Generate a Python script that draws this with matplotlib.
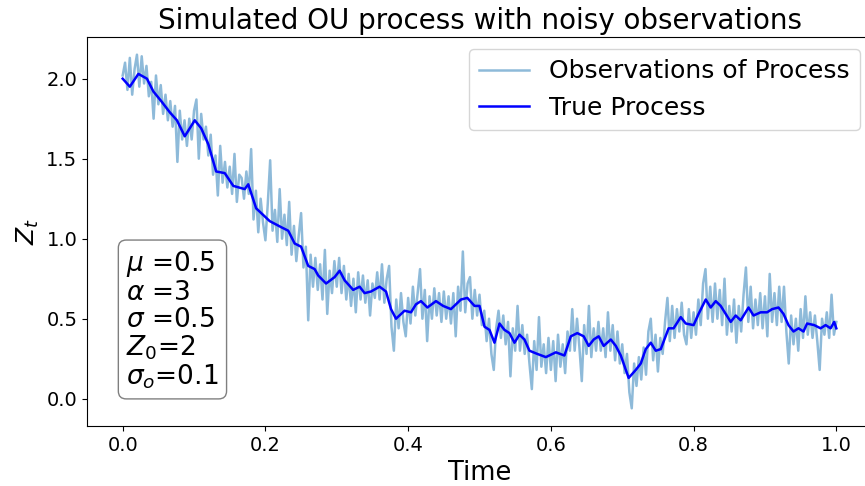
import numpy as np
import matplotlib
matplotlib.use("Agg")
import matplotlib.pyplot as plt

# True process (time, value)
t_true = [0.000, 0.010, 0.022, 0.034, 0.043, 0.054, 0.066, 0.076, 0.087, 0.101,
          0.110, 0.120, 0.131, 0.143, 0.155, 0.171, 0.176, 0.187, 0.206, 0.223,
          0.232, 0.241, 0.250, 0.260, 0.269, 0.274, 0.285, 0.297, 0.304, 0.311,
          0.323, 0.332, 0.339, 0.348, 0.360, 0.369, 0.376, 0.383, 0.395, 0.404,
          0.411, 0.418, 0.427, 0.439, 0.449, 0.460, 0.474, 0.483, 0.493, 0.500,
          0.507, 0.514, 0.521, 0.528, 0.535, 0.542, 0.549, 0.556, 0.563, 0.570,
          0.581, 0.593, 0.607, 0.619, 0.628, 0.637, 0.646, 0.653, 0.660, 0.667,
          0.674, 0.684, 0.691, 0.698, 0.709, 0.719, 0.726, 0.733, 0.740, 0.747,
          0.754, 0.765, 0.772, 0.782, 0.789, 0.800, 0.807, 0.817, 0.824, 0.831,
          0.838, 0.852, 0.859, 0.866, 0.877, 0.884, 0.894, 0.903, 0.910, 0.919,
          0.926, 0.933, 0.940, 0.947, 0.954, 0.959, 0.969, 0.978, 0.985, 0.992,
          0.997, 1.000]
z_true = [2.00, 1.95, 2.03, 2.00, 1.92, 1.86, 1.79, 1.74, 1.64, 1.74,
          1.69, 1.59, 1.42, 1.41, 1.33, 1.31, 1.34, 1.19, 1.11, 1.07,
          1.05, 0.97, 0.95, 0.83, 0.81, 0.77, 0.72, 0.76, 0.80, 0.74,
          0.68, 0.70, 0.66, 0.67, 0.70, 0.67, 0.56, 0.50, 0.55, 0.54,
          0.59, 0.61, 0.57, 0.61, 0.58, 0.56, 0.62, 0.63, 0.58, 0.58,
          0.45, 0.43, 0.35, 0.47, 0.43, 0.41, 0.35, 0.40, 0.37, 0.30,
          0.28, 0.26, 0.29, 0.27, 0.39, 0.41, 0.39, 0.33, 0.37, 0.39,
          0.33, 0.37, 0.33, 0.27, 0.13, 0.18, 0.22, 0.31, 0.35, 0.30,
          0.31, 0.44, 0.44, 0.51, 0.47, 0.46, 0.53, 0.62, 0.57, 0.61,
          0.58, 0.48, 0.52, 0.49, 0.57, 0.52, 0.54, 0.54, 0.56, 0.57,
          0.53, 0.46, 0.42, 0.44, 0.42, 0.47, 0.46, 0.44, 0.46, 0.44,
          0.48, 0.44]

# Noisy observations, 301 equally spaced times on [0, 1]
z_obs = [
    2.02, 2.10, 1.93, 2.13, 1.90, 2.06, 2.15, 1.95, 2.14, 1.97,
    2.08, 1.89, 1.98, 1.75, 2.02, 1.84, 1.96, 1.78, 1.90, 1.74,
    1.86, 1.70, 1.83, 1.48, 1.80, 1.62, 1.74, 1.58, 1.75, 1.62,
    1.80, 1.87, 1.50, 1.78, 1.62, 1.70, 1.52, 1.65, 1.40, 1.52,
    1.27, 1.58, 1.35, 1.48, 1.32, 1.45, 1.28, 1.53, 1.23, 1.40,
    1.38, 1.25, 1.42, 1.28, 1.56, 1.12, 1.30, 1.04, 1.25, 1.10,
    0.99, 1.22, 1.49, 1.05, 1.18, 0.98, 1.31, 1.00, 1.15, 0.96,
    1.23, 0.90, 1.08, 0.86, 1.02, 1.16, 0.82, 0.95, 0.49, 0.90,
    0.70, 0.88, 0.68, 0.84, 0.62, 0.93, 0.53, 0.80, 0.66, 0.86,
    0.70, 0.88, 0.66, 0.83, 0.62, 0.78, 0.58, 0.75, 0.54, 0.79,
    0.62, 0.77, 0.60, 0.74, 0.52, 0.72, 0.63, 0.79, 0.62, 0.84,
    0.60, 0.75, 0.83, 0.45, 0.30, 0.62, 0.44, 0.66, 0.48, 0.39,
    0.63, 0.47, 0.70, 0.52, 0.66, 0.81, 0.50, 0.68, 0.36, 0.64,
    0.50, 0.69, 0.52, 0.66, 0.48, 0.67, 0.50, 0.64, 0.47, 0.66,
    0.39, 0.70, 0.55, 0.92, 0.54, 0.72, 0.76, 0.50, 0.68, 0.52,
    0.65, 0.46, 0.55, 0.36, 0.50, 0.28, 0.18, 0.44, 0.55, 0.38,
    0.52, 0.34, 0.48, 0.14, 0.44, 0.30, 0.58, 0.30, 0.46, 0.28,
    0.40, 0.22, 0.06, 0.36, 0.18, 0.51, 0.20, 0.34, 0.16, 0.38,
    0.18, 0.36, 0.11, 0.40, 0.20, 0.34, 0.16, 0.42, 0.30, 0.56,
    0.30, 0.50, 0.32, 0.11, 0.46, 0.28, 0.58, 0.26, 0.44, 0.30,
    0.48, 0.30, 0.44, 0.26, 0.54, 0.30, 0.46, 0.24, 0.42, 0.22,
    0.34, 0.16, 0.28, 0.04, -0.06, 0.22, 0.08, 0.26, 0.12, 0.32,
    0.15, 0.42, 0.50, 0.24, 0.40, 0.17, 0.38, 0.28, 0.48, 0.63,
    0.36, 0.58, 0.38, 0.56, 0.42, 0.60, 0.40, 0.34, 0.56, 0.38,
    0.54, 0.40, 0.62, 0.46, 0.72, 0.81, 0.50, 0.70, 0.48, 0.72,
    0.50, 0.68, 0.46, 0.75, 0.40, 0.58, 0.42, 0.62, 0.35, 0.58,
    0.42, 0.65, 0.82, 0.48, 0.70, 0.44, 0.62, 0.46, 0.66, 0.44,
    0.64, 0.39, 0.78, 0.48, 0.66, 0.46, 0.70, 0.48, 0.70, 0.42,
    0.22, 0.52, 0.34, 0.50, 0.30, 0.56, 0.38, 0.64, 0.40, 0.54,
    0.38, 0.52, 0.36, 0.18, 0.50, 0.40, 0.54, 0.38, 0.65, 0.40,
    0.48,
]
t_obs = np.linspace(0, 1, len(z_obs))

params_text = "$\\mu$ =0.5\n$\\alpha$ =3\n$\\sigma$ =0.5\n$Z_0$=2\n$\\sigma_o$=0.1"

W, H = 865, 486
fig = plt.figure(figsize=(W / 100, H / 100), dpi=100)
left, right, top, bottom = 87, 872, 37, 426
ax = fig.add_axes([left / W, 1 - bottom / H, (right - left) / W, (bottom - top) / H])

ax.plot(t_obs, z_obs, color="tab:blue", alpha=0.5, lw=1.8, label="Observations of Process")
ax.plot(t_true, z_true, color="blue", lw=1.8, label="True Process")

ax.set_title("Simulated OU process with noisy observations", fontsize=20)
ax.set_xlabel("Time", fontsize=18.5)
ax.set_ylabel("$Z_t$", fontsize=18)
ax.tick_params(labelsize=14)
ax.set_xticks([0.0, 0.2, 0.4, 0.6, 0.8, 1.0])
ax.set_yticks([0.0, 0.5, 1.0, 1.5, 2.0])
ax.legend(loc="upper right", fontsize=18)
ax.text(0.05, 0.09, params_text, transform=ax.transAxes, fontsize=19,
        va="bottom", ha="left", linespacing=1.03,
        bbox=dict(boxstyle="round", facecolor="white", alpha=0.5))

fig.savefig("out.png", dpi=100)
